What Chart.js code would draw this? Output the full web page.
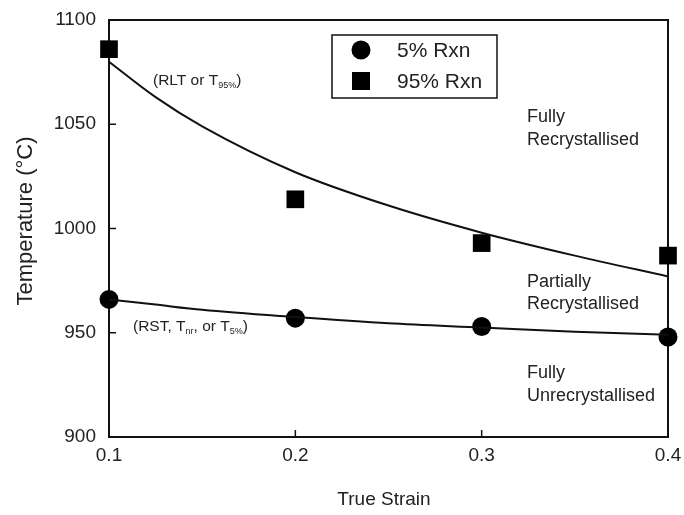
<!DOCTYPE html>
<html>
<head>
<meta charset="utf-8">
<script src="https://cdn.jsdelivr.net/npm/chart.js@4/dist/chart.umd.min.js"></script>
<style>
html,body{margin:0;padding:0;background:#fff;}
#wrap{width:684px;height:515px;position:relative;}
</style>
</head>
<body>
<div id="wrap"><canvas id="c" width="684" height="515"></canvas></div>
<script>
// ---- data ----
const strains = [0.1, 0.2, 0.3, 0.4];
const rxn5 = [966, 957, 953, 948];
const rxn95 = [1086, 1014, 993, 987];
// fitted curves
const fitStrain = [0.1, 0.125, 0.15, 0.2, 0.25, 0.3, 0.35, 0.4];
const fitUpper = [1080, 1063, 1049, 1027, 1011, 998, 987, 977];
const fitLower = [966, 963.5, 961, 957.5, 954.5, 952.5, 950.5, 949];
const xTicks = [0.1, 0.2, 0.3, 0.4];
const yTicks = [900, 950, 1000, 1050, 1100];
const seriesNames = ['5% Rxn', '95% Rxn'];
const xTitle = 'True Strain';
const yTitle = 'Temperature (°C)';

const FONT = '"Liberation Sans", Arial, sans-serif';
const TXT = '#222';

const pts = (xs, ys) => xs.map((x, i) => ({x: x, y: ys[i]}));

const framePlugin = {
  id: 'frame',
  beforeDatasetsDraw(chart) {
    const {ctx, chartArea: a, scales} = chart;
    const xs = scales.x, ys = scales.y;
    ctx.save();
    ctx.strokeStyle = '#111';
    ctx.lineWidth = 2;
    ctx.strokeRect(a.left, a.top, a.right - a.left, a.bottom - a.top);
    ctx.lineWidth = 1.5;
    xTicks.forEach(v => {
      const px = xs.getPixelForValue(v);
      ctx.beginPath(); ctx.moveTo(px, a.bottom); ctx.lineTo(px, a.bottom - 7); ctx.stroke();
    });
    yTicks.forEach(v => {
      const py = ys.getPixelForValue(v);
      ctx.beginPath(); ctx.moveTo(a.left, py); ctx.lineTo(a.left + 7, py); ctx.stroke();
    });
    ctx.restore();
  },
  afterDraw(chart) {
    const {ctx} = chart;
    ctx.save();
    ctx.fillStyle = TXT;
    ctx.textBaseline = 'middle';
    ctx.textAlign = 'left';
    // region labels
    ctx.font = '18px ' + FONT;
    const lab = [['Fully', 527, 117], ['Recrystallised', 527, 140],
                 ['Partially', 527, 282], ['Recrystallised', 527, 304],
                 ['Fully', 527, 373], ['Unrecrystallised', 527, 396]];
    lab.forEach(l => ctx.fillText(l[0], l[1], l[2]));
    // curve labels with subscripts
    function sub(parts, x, y) {
      parts.forEach(p => {
        if (p[1]) { ctx.font = '9px ' + FONT; ctx.fillText(p[0], x, y + 5); }
        else { ctx.font = '15.5px ' + FONT; ctx.fillText(p[0], x, y); }
        x += ctx.measureText(p[0]).width;
      });
    }
    sub([['(RLT or T', 0], ['95%', 1], [')', 0]], 153, 81);
    sub([['(RST, T', 0], ['nr', 1], [', or T', 0], ['5%', 1], [')', 0]], 133, 327);
    // legend
    ctx.strokeStyle = '#111';
    ctx.lineWidth = 1.5;
    ctx.fillStyle = '#fff';
    ctx.fillRect(332, 35, 165, 63);
    ctx.strokeRect(332, 35, 165, 63);
    ctx.fillStyle = '#000';
    ctx.beginPath(); ctx.arc(361, 50, 9.5, 0, Math.PI * 2); ctx.fill();
    ctx.fillRect(352, 72, 18, 18);
    ctx.fillStyle = TXT;
    ctx.font = '21px ' + FONT;
    ctx.fillText(seriesNames[0], 397, 51);
    ctx.fillText(seriesNames[1], 397, 82);
    // axis titles
    ctx.textAlign = 'center';
    ctx.font = '19px ' + FONT;
    ctx.fillText(xTitle, 384, 500);
    ctx.translate(26, 221);
    ctx.rotate(-Math.PI / 2);
    ctx.font = '22px ' + FONT;
    ctx.fillText(yTitle, 0, 0);
    ctx.restore();
  }
};

new Chart(document.getElementById('c'), {
  type: 'scatter',
  data: {
    datasets: [
      {label: 'fit95', data: pts(fitStrain, fitUpper), showLine: true,
       cubicInterpolationMode: 'monotone',
       borderColor: '#111', borderWidth: 2, pointRadius: 0, fill: false},
      {label: 'fit5', data: pts(fitStrain, fitLower), showLine: true,
       cubicInterpolationMode: 'monotone',
       borderColor: '#111', borderWidth: 2, pointRadius: 0, fill: false},
      {label: seriesNames[0], data: pts(strains, rxn5), pointStyle: 'circle', clip: false,
       pointRadius: 9.5, backgroundColor: '#000', borderColor: '#000', borderWidth: 0},
      {label: seriesNames[1], data: pts(strains, rxn95), pointStyle: 'rect', clip: false,
       pointRadius: 12.5, backgroundColor: '#000', borderColor: '#000', borderWidth: 0}
    ]
  },
  options: {
    responsive: false,
    animation: false,
    devicePixelRatio: 1,
    layout: {padding: {left: 0, right: 16, top: 20, bottom: 0}},
    plugins: {legend: {display: false}, tooltip: {enabled: false}},
    scales: {
      x: {
        type: 'linear', min: 0.1, max: 0.4,
        afterBuildTicks: s => { s.ticks = xTicks.map(v => ({value: v})); },
        afterFit: s => { s.height = 78; s.paddingLeft = 0; s.paddingRight = 0; },
        grid: {display: false, drawTicks: false},
        border: {display: false},
        ticks: {padding: 7, color: TXT, font: {family: FONT, size: 19},
                callback: v => v.toFixed(1)},
        title: {display: false}
      },
      y: {
        type: 'linear', min: 900, max: 1100,
        afterBuildTicks: s => { s.ticks = yTicks.map(v => ({value: v})); },
        afterFit: s => { s.width = 109; s.paddingTop = 0; s.paddingBottom = 0; },
        grid: {display: false, drawTicks: false},
        border: {display: false},
        ticks: {padding: 13, color: TXT, font: {family: FONT, size: 19},
                callback: v => String(v)},
        title: {display: false}
      }
    }
  },
  plugins: [framePlugin]
});
</script>
</body>
</html>
